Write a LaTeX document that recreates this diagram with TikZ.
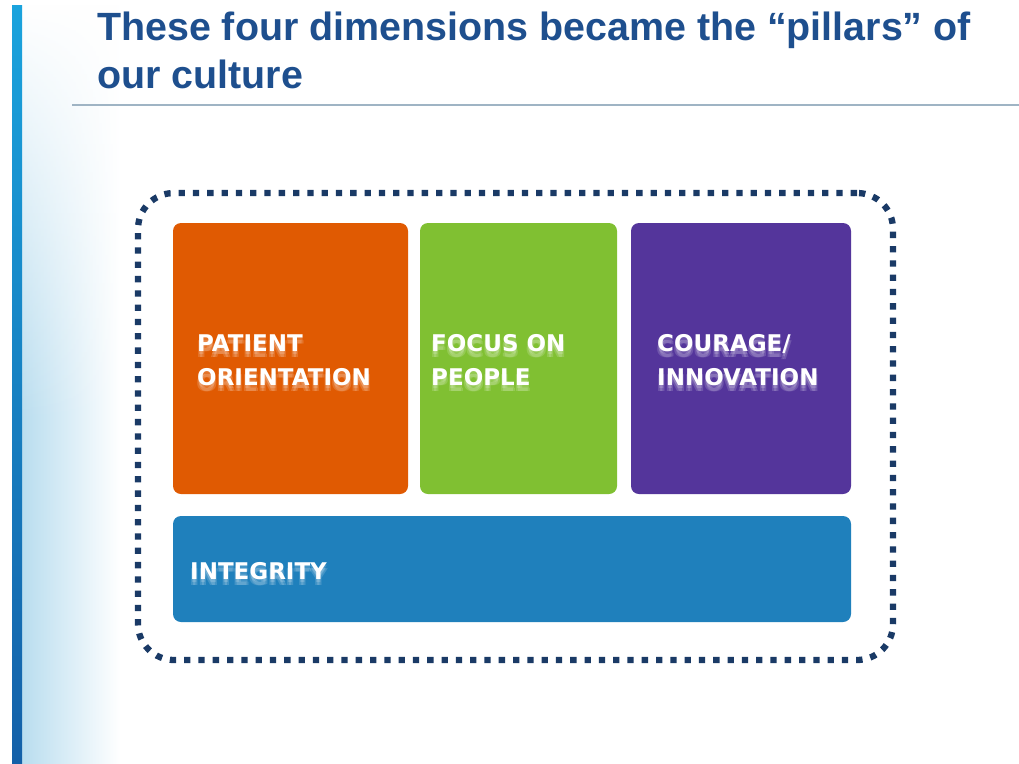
\documentclass[tikz,border=0pt]{standalone}
\usepackage{fontspec}
\usetikzlibrary{fadings,calc}
\setmainfont{Liberation Sans}
\newfontfamily\boxfont{DejaVu Sans}
\definecolor{titleblue}{HTML}{1E4F8E}
\definecolor{navy}{HTML}{1A3A66}
\definecolor{porange}{HTML}{E05A02}
\definecolor{pgreen}{HTML}{80C032}
\definecolor{ppurple}{HTML}{54359B}
\definecolor{pblue}{HTML}{1F80BC}
\definecolor{rulegray}{HTML}{9FB4C4}
\definecolor{bartop}{HTML}{1AA3DD}
\definecolor{barbot}{HTML}{1460A8}
\definecolor{fadeblue}{HTML}{B9DDEF}
\tikzfading[name=fadedown, top color=transparent!0, bottom color=transparent!100]
\tikzset{
  pillar/.style={rounded corners=8pt, draw=none, inner sep=0pt},
  pillartext/.style={text=white, font=\boxfont\fontsize{23}{34}\selectfont\bfseries, align=left, anchor=west, inner sep=0pt},
  pillarshadow/.style={text=white, opacity=0.16, font=\boxfont\fontsize{23}{34}\selectfont\bfseries, align=left, anchor=west, inner sep=0pt},
  titletext/.style={text=titleblue, font=\fontsize{39.4}{48}\selectfont\bfseries, anchor=base west, inner sep=0pt}
}
\newcommand{\pillarlabel}[3]{%
  \foreach \dx/\dy in {0/3,1/6,-1/6}{\node[pillarshadow] at ($(#1)+(\dx,\dy)$) {#3};}
  \node[pillartext] (#2) at (#1) {#3};}
\begin{document}
\begin{tikzpicture}[x=1pt,y=-1pt]
\useasboundingbox (0,0) rectangle (1019,763);
\fill[white] (0,0) rectangle (1019,763);
% left decoration
\shade[left color=fadeblue, right color=white] (22,5) rectangle (120,763);
\fill[white, path fading=fadedown] (22,5) rectangle (120,420);
\shade[top color=bartop, bottom color=barbot] (12,5) rectangle (22,763);
% title
\node[titletext] (title1) at (97,40) {These four dimensions became the “pillars” of};
\node[titletext] (title2) at (97,88) {our culture};
\coordinate (ruleL) at (72,105);
\coordinate (ruleR) at (1019,105);
\draw[rulegray, line width=1.6pt] (ruleL) -- (ruleR);
% dotted frame
\node[draw=navy, line width=6.3pt, dash pattern=on 6.3pt off 8pt, rounded corners=36pt,
  minimum width=755pt, minimum height=467pt, inner sep=0pt] (frame) at (515.5,426.5) {};
% pillars
\node[pillar, fill=porange, minimum width=235pt, minimum height=271pt] (p1) at (290.5,358.5) {};
\node[pillar, fill=pgreen, minimum width=197pt, minimum height=271pt] (p2) at (518.5,358.5) {};
\node[pillar, fill=ppurple, minimum width=220pt, minimum height=271pt] (p3) at (741,358.5) {};
\node[pillar, fill=pblue, minimum width=678pt, minimum height=106pt] (p4) at (512,569) {};
% labels
\pillarlabel{197,360}{t1}{PATIENT\\ORIENTATION}
\pillarlabel{431,360}{t2}{FOCUS ON\\PEOPLE}
\pillarlabel{657,360}{t3}{COURAGE/\\INNOVATION}
\pillarlabel{190,571}{t4}{INTEGRITY}
\end{tikzpicture}
\end{document}
